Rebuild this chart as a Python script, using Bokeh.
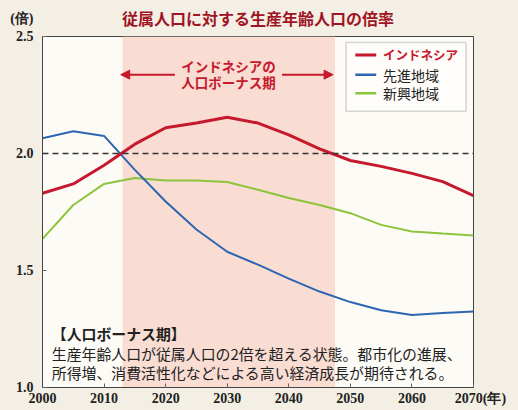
from bokeh.plotting import figure
from bokeh.models import (BoxAnnotation, Span, Label, Arrow, NormalHead, Title,
                          FixedTicker, NumeralTickFormatter)
from bokeh.embed import file_html
from bokeh.resources import INLINE

# ---- data ----
years = [2000, 2005, 2010, 2015, 2020, 2025, 2030, 2035, 2040, 2045, 2050, 2055, 2060, 2065, 2070]
indonesia = [1.83, 1.87, 1.95, 2.04, 2.11, 2.13, 2.155, 2.13, 2.08, 2.02, 1.97, 1.945, 1.915, 1.88, 1.82]
developed = [2.065, 2.095, 2.075, 1.93, 1.795, 1.675, 1.58, 1.525, 1.465, 1.41, 1.365, 1.33, 1.31, 1.318, 1.325]
emerging = [1.635, 1.78, 1.87, 1.895, 1.885, 1.885, 1.878, 1.845, 1.81, 1.78, 1.745, 1.695, 1.667, 1.658, 1.65]
series_names = ["インドネシア", "先進地域", "新興地域"]
x_ticks = [2000, 2010, 2020, 2030, 2040, 2050, 2060, 2070]
y_ticks = [1.0, 1.5, 2.0, 2.5]
bonus_period = [2013, 2047.5]
threshold = 2.0
title_text = "従属人口に対する生産年齢人口の倍率"
y_unit = "(倍)"
x_unit = "(年)"
arrow_text = ["インドネシアの", "人口ボーナス期"]
note_lines = ["【人口ボーナス期】",
              "生産年齢人口が従属人口の2倍を超える状態。都市化の進展、",
              "所得増、消費活性化などによる高い経済成長が期待される。"]

RED = "#c5192d"
BLUE = "#2c66b2"
GREEN = "#8cc43c"
DARKRED = "#a01424"
PAGE = "#f3efe4"
CJK = "Noto Sans CJK JP"
NUM = "Liberation Serif"

p = figure(width=518, height=410, x_range=(2000, 2070), y_range=(1.0, 2.5),
           output_backend="svg", toolbar_location=None,
           min_border_left=42, min_border_right=45, min_border_top=34, min_border_bottom=23)
p.background_fill_color = "#fdfbf6"
p.border_fill_color = PAGE
p.outline_line_color = "#444444"
p.outline_line_width = 1
p.xgrid.visible = False
p.ygrid.visible = False

for ax in (p.xaxis[0], p.yaxis[0]):
    ax.major_tick_in = 4
    ax.major_tick_out = 0
    ax.minor_tick_line_color = None
    ax.axis_line_color = "#444444"
    ax.major_tick_line_color = "#666666"
    ax.major_label_text_font = NUM
    ax.major_label_text_font_style = "bold"
    ax.major_label_text_font_size = "14px"
    ax.major_label_text_color = "#222222"
p.xaxis.ticker = FixedTicker(ticks=x_ticks)
p.xaxis.formatter = NumeralTickFormatter(format="0")
p.xaxis.major_label_overrides = {x_ticks[-1]: "\u3000" + str(x_ticks[-1]) + x_unit}
p.xaxis.major_label_standoff = 3
p.yaxis.ticker = FixedTicker(ticks=y_ticks)
p.yaxis.formatter = NumeralTickFormatter(format="0.0")
# the unit sits above the top tick label
p.yaxis.major_label_overrides = {y_ticks[-1]: y_unit + "\n" + "%.1f" % y_ticks[-1] + "\n\u3000"}
p.yaxis.major_label_standoff = 9

# chart title at the very top of the page
p.add_layout(Title(text=title_text, align="center", vertical_align="top", standoff=10,
                   text_font=CJK, text_font_style="bold", text_font_size="16px",
                   text_color=DARKRED), "above")

# bonus period shading
p.add_layout(BoxAnnotation(left=bonus_period[0], right=bonus_period[1],
                           fill_color="#f9dcd2", fill_alpha=1.0, line_color=None,
                           level="underlay"))
# legend frame (under the glyphs so that swatches show)
p.add_layout(BoxAnnotation(left=2049.3, right=2068.8, bottom=2.181, top=2.474,
                           fill_color="#fefdfa", fill_alpha=1.0, line_color="#777777",
                           line_width=1.5, level="underlay"))
# threshold dashed line
p.add_layout(Span(location=threshold, dimension="width", line_color="#333333",
                  line_dash="6 4", line_width=1.3))

# series
p.line(years, emerging, line_color=GREEN, line_width=2)
p.line(years, developed, line_color=BLUE, line_width=2)
p.line(years, indonesia, line_color=RED, line_width=3)

# arrows for the bonus period
head_l = NormalHead(size=9, fill_color=RED, line_color=RED)
head_r = NormalHead(size=9, fill_color=RED, line_color=RED)
p.add_layout(Arrow(end=head_l, x_start=2021.5, y_start=2.337, x_end=bonus_period[0] - 0.3,
                   y_end=2.337, line_color=RED, line_width=2))
p.add_layout(Arrow(end=head_r, x_start=2038.9, y_start=2.337, x_end=bonus_period[1] - 0.3,
                   y_end=2.337, line_color=RED, line_width=2))
for txt, yy in zip(arrow_text, [2.375, 2.305]):
    p.add_layout(Label(x=2030.2, y=yy, text=txt, text_align="center", text_baseline="middle",
                       text_font=CJK, text_font_style="bold", text_font_size="13.5px",
                       text_color=RED))

# legend entries (manual so that the first label can be red)
leg_y = [2.421, 2.337, 2.258]
leg_col = [RED, BLUE, GREEN]
leg_w = [3, 2.5, 2.5]
leg_txt_col = [RED, "#222222", "#222222"]
leg_size = ["12.5px", "14px", "14px"]
for name, yy, c, w, tc, fs in zip(series_names, leg_y, leg_col, leg_w, leg_txt_col, leg_size):
    p.line([2050.8, 2054.2], [yy, yy], line_color=c, line_width=w)
    p.add_layout(Label(x=2055.3, y=yy, text=name, text_align="left", text_baseline="middle",
                       text_font=CJK, text_font_style="bold" if tc == RED else "normal",
                       text_font_size=fs, text_color=tc))

# explanatory note
for txt, yy, st in zip(note_lines, [1.232, 1.147, 1.066], ["bold", "normal", "normal"]):
    p.add_layout(Label(x=2001.5, y=yy, text=txt, text_align="left", text_baseline="middle",
                       text_font=CJK, text_font_style=st, text_font_size="14.9px",
                       text_color="#222222"))

html = file_html(p, INLINE)
html = html.replace("</head>", "<style>body{background:%s;}</style></head>" % PAGE, 1)
open("out.html", "w").write(html)
